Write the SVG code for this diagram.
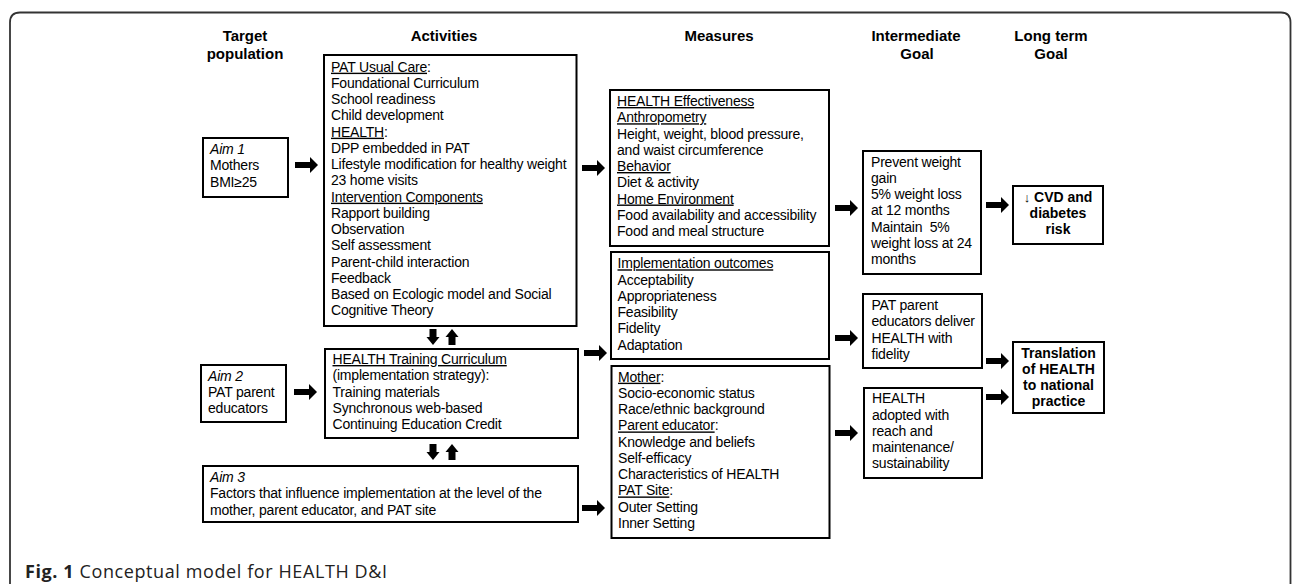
<svg xmlns="http://www.w3.org/2000/svg" xmlns:xlink="http://www.w3.org/1999/xlink" width="1292" height="584" viewBox="0 0 1292 584">
<style>
.frame{fill:none;stroke:#333;stroke-width:1.8}
.box{fill:#fff;stroke:#000;stroke-width:2}
.t{font-family:"Liberation Sans",Arial,sans-serif;font-size:14px;letter-spacing:-0.2px;fill:#000}
.h{font-family:"Liberation Sans",Arial,sans-serif;font-size:15px;font-weight:bold;text-anchor:middle;fill:#000}
.b{font-weight:bold;text-anchor:middle;letter-spacing:0}
.u{text-decoration:underline}
.i{font-style:italic}
.cap{font-family:"Open Sans","Noto Sans",sans-serif;font-size:18px;letter-spacing:0.6px;fill:#222}
.arr{fill:#000}
</style>
<defs>
<path id="ar" d="M0,-3 H15 V-8 L23,0 L15,8 V3 H0 Z"/>
<path id="ad" d="M-3.5,0 H3.5 V8 H6.5 L0,16 L-6.5,8 H-3.5 Z"/>
<path id="au" d="M-3.5,16 H3.5 V8 H6.5 L0,0 L-6.5,8 H-3.5 Z"/>
</defs>
<rect width="1292" height="584" fill="#fff"/>
<path class="frame" d="M10,600 V22.5 Q10,12.5 20,12.5 H1281 Q1290.5,12.5 1290.5,22.5 V600"/>

<g id="headers">
<text class="h" x="245" y="41">Target</text>
<text class="h" x="245" y="59">population</text>
<text class="h" x="444" y="41">Activities</text>
<text class="h" x="719" y="41">Measures</text>
<text class="h" x="916" y="41">Intermediate</text>
<text class="h" x="917" y="59">Goal</text>
<text class="h" x="1051" y="41">Long term</text>
<text class="h" x="1051" y="59">Goal</text>
</g>

<g id="aim1">
<rect class="box" x="203" y="138" width="85" height="59"/>
<text class="t" x="210" y="154"><tspan class="i">Aim 1</tspan><tspan x="210" dy="16.25">Mothers</tspan><tspan x="210" dy="16.25">BMI≥25</tspan></text>
</g>

<g id="activities">
<rect class="box" x="324" y="55" width="252.5" height="271"/>
<text class="t" x="331" y="71.7"><tspan class="u">PAT Usual Care</tspan>:<tspan x="331" dy="16.25">Foundational Curriculum</tspan><tspan x="331" dy="16.25">School readiness</tspan><tspan x="331" dy="16.25">Child development</tspan><tspan x="331" dy="16.25"><tspan class="u">HEALTH</tspan>:</tspan><tspan x="331" dy="16.25">DPP embedded in PAT</tspan><tspan x="331" dy="16.25">Lifestyle modification for healthy weight</tspan><tspan x="331" dy="16.25">23 home visits</tspan><tspan x="331" dy="16.25" class="u">Intervention Components</tspan><tspan x="331" dy="16.25">Rapport building</tspan><tspan x="331" dy="16.25">Observation</tspan><tspan x="331" dy="16.25">Self assessment</tspan><tspan x="331" dy="16.25">Parent-child interaction</tspan><tspan x="331" dy="16.25">Feedback</tspan><tspan x="331" dy="16.25">Based on Ecologic model and Social</tspan><tspan x="331" dy="16.25">Cognitive Theory</tspan></text>
</g>

<g id="aim2">
<rect class="box" x="201" y="365" width="85" height="57"/>
<text class="t" x="208" y="380.7"><tspan class="i">Aim 2</tspan><tspan x="208" dy="16.25">PAT parent</tspan><tspan x="208" dy="16.25">educators</tspan></text>
</g>

<g id="training">
<rect class="box" x="325" y="349" width="253" height="89"/>
<text class="t" x="332.5" y="364"><tspan class="u">HEALTH Training Curriculum</tspan><tspan x="332.5" dy="16.25">(implementation strategy):</tspan><tspan x="332.5" dy="16.25">Training materials</tspan><tspan x="332.5" dy="16.25">Synchronous web-based</tspan><tspan x="332.5" dy="16.25">Continuing Education Credit</tspan></text>
</g>

<g id="aim3">
<rect class="box" x="203" y="466" width="375" height="56"/>
<text class="t" x="210" y="482"><tspan class="i">Aim 3</tspan><tspan x="210" dy="16.25">Factors that influence implementation at the level of the</tspan><tspan x="210" dy="16.25">mother, parent educator, and PAT site</tspan></text>
</g>

<g id="effectiveness">
<rect class="box" x="610" y="90" width="219" height="156"/>
<text class="t" x="617" y="106"><tspan class="u">HEALTH Effectiveness</tspan><tspan x="617" dy="16.25" class="u">Anthropometry</tspan><tspan x="617" dy="16.25">Height, weight, blood pressure,</tspan><tspan x="617" dy="16.25">and waist circumference</tspan><tspan x="617" dy="16.25" class="u">Behavior</tspan><tspan x="617" dy="16.25">Diet &amp; activity</tspan><tspan x="617" dy="16.25" class="u">Home Environment</tspan><tspan x="617" dy="16.25">Food availability and accessibility</tspan><tspan x="617" dy="16.25">Food and meal structure</tspan></text>
</g>

<g id="implementation">
<rect class="box" x="611" y="252" width="218" height="107"/>
<text class="t" x="617.5" y="268.3"><tspan class="u">Implementation outcomes</tspan><tspan x="617.5" dy="16.25">Acceptability</tspan><tspan x="617.5" dy="16.25">Appropriateness</tspan><tspan x="617.5" dy="16.25">Feasibility</tspan><tspan x="617.5" dy="16.25">Fidelity</tspan><tspan x="617.5" dy="16.25">Adaptation</tspan></text>
</g>

<g id="factors">
<rect class="box" x="611.5" y="366" width="218" height="172"/>
<text class="t" x="618" y="381.7"><tspan class="u">Mother</tspan>:<tspan x="618" dy="16.25">Socio-economic status</tspan><tspan x="618" dy="16.25">Race/ethnic background</tspan><tspan x="618" dy="16.25"><tspan class="u">Parent educator</tspan>:</tspan><tspan x="618" dy="16.25">Knowledge and beliefs</tspan><tspan x="618" dy="16.25">Self-efficacy</tspan><tspan x="618" dy="16.25">Characteristics of HEALTH</tspan><tspan x="618" dy="16.25"><tspan class="u">PAT Site</tspan>:</tspan><tspan x="618" dy="16.25">Outer Setting</tspan><tspan x="618" dy="16.25">Inner Setting</tspan></text>
</g>

<g id="weight-goal">
<rect class="box" x="863" y="151" width="118" height="123"/>
<text class="t" x="871" y="166.7" xml:space="preserve"><tspan>Prevent weight</tspan><tspan x="871" dy="16.25">gain</tspan><tspan x="871" dy="16.25">5% weight loss</tspan><tspan x="871" dy="16.25">at 12 months</tspan><tspan x="871" dy="16.25">Maintain  5%</tspan><tspan x="871" dy="16.25">weight loss at 24</tspan><tspan x="871" dy="16.25">months</tspan></text>
</g>

<g id="fidelity-goal">
<rect class="box" x="863" y="294" width="119" height="74"/>
<text class="t" x="871.5" y="310"><tspan>PAT parent</tspan><tspan x="871.5" dy="16.25">educators deliver</tspan><tspan x="871.5" dy="16.25">HEALTH with</tspan><tspan x="871.5" dy="16.25">fidelity</tspan></text>
</g>

<g id="adoption-goal">
<rect class="box" x="864" y="388" width="118" height="90"/>
<text class="t" x="872" y="403.3"><tspan>HEALTH</tspan><tspan x="872" dy="16.25">adopted with</tspan><tspan x="872" dy="16.25">reach and</tspan><tspan x="872" dy="16.25">maintenance/</tspan><tspan x="872" dy="16.25">sustainability</tspan></text>
</g>

<g id="cvd-goal">
<rect class="box" x="1013" y="186" width="90" height="58"/>
<text class="t b" x="1058" y="201.7"><tspan font-weight="normal" font-size="13">↓</tspan> CVD and<tspan x="1058" dy="16.25">diabetes</tspan><tspan x="1058" dy="16.25">risk</tspan></text>
</g>

<g id="translation-goal">
<rect class="box" x="1013" y="342" width="91" height="71"/>
<text class="t b" x="1058.5" y="357.7">Translation<tspan x="1058.5" dy="16">of HEALTH</tspan><tspan x="1058.5" dy="16">to national</tspan><tspan x="1058.5" dy="16">practice</tspan></text>
</g>

<g id="connectors" class="arr">
<use xlink:href="#ar" x="295" y="165"/>
<use xlink:href="#ar" x="582" y="168"/>
<use xlink:href="#ar" x="294" y="392"/>
<use xlink:href="#ar" x="584" y="353"/>
<use xlink:href="#ar" x="582" y="508"/>
<use xlink:href="#ar" x="835" y="208"/>
<use xlink:href="#ar" x="835" y="338"/>
<use xlink:href="#ar" x="835" y="433"/>
<use xlink:href="#ar" x="986" y="205"/>
<use xlink:href="#ar" x="986" y="361"/>
<use xlink:href="#ar" x="986" y="397"/>
<use xlink:href="#ad" x="433" y="329"/>
<use xlink:href="#au" x="452" y="329"/>
<use xlink:href="#ad" x="433" y="444"/>
<use xlink:href="#au" x="452" y="444"/>
</g>

<text class="cap" x="25" y="578"><tspan font-weight="bold">Fig. 1</tspan> Conceptual model for HEALTH D&amp;I</text>
</svg>
